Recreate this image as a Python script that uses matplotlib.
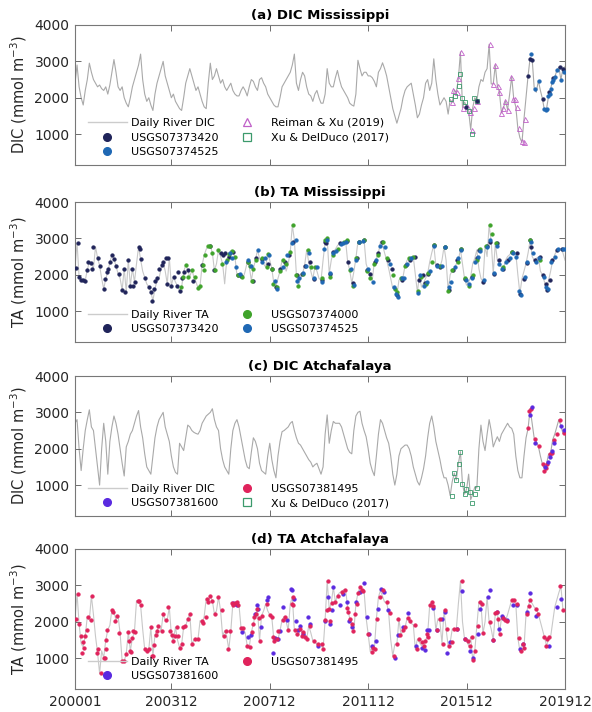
import numpy as np
import matplotlib
matplotlib.use("Agg")
import matplotlib.pyplot as plt
from matplotlib.lines import Line2D

# months since Jan 2000 (0 .. 239)
tickMonths = [0, 47, 95, 143, 191, 239]
tickLabels = ["200001", "200312", "200712", "201112", "201512", "201912"]

# (a) DIC Mississippi, daily river line sampled monthly
dicMissLine = [
    2400, 2900, 2300, 2000, 1800, 2200, 2500, 2950, 2700, 2500, 2400, 2300,
    2350, 2250, 2200, 2300, 2100, 2350, 2700, 3050, 2700, 2300, 2200, 2300,
    2000, 1850, 1750, 2000, 2300, 2500, 2700, 2900, 3200, 2500, 2100, 1900,
    2000, 1800, 1650, 2100, 2400, 2600, 2800, 3000, 2600, 2400, 2200, 2000,
    2100, 1900, 1800, 1700, 1650, 2000, 2400, 2600, 2800, 2600, 2400, 2200,
    2300, 2100, 1900, 1750, 1700, 2400, 2950, 2500, 2600, 2800, 2600, 2400,
    2500, 2300, 2200, 2300, 2400, 2200, 2100, 2050, 2050, 2200, 2300, 2200,
    2050, 2300, 2500, 2450, 2300, 2200, 2500, 2550, 2400, 2300, 2100, 2000,
    1900, 1800, 1750, 1750, 2000, 2300, 2400, 2500, 2600, 2700, 2900, 3200,
    2400, 2200, 2500, 2700, 2600, 2300, 2100, 2050, 1900, 2100, 2200, 2000,
    1850, 1850, 2100, 2800, 2400, 2300, 2300, 2550, 2750, 2500, 2300, 2200,
    2100, 2000, 1850, 1800, 1770, 2100, 3030, 2800, 2600, 2700, 2700, 2600,
    2600, 2550, 2450, 2300, 2700, 2800, 2960, 2800, 2600, 2300, 2000, 1700,
    1500, 1300, 1500, 1700, 2000, 2200, 2300, 2350, 2400, 2100, 1800, 1450,
    1550, 1800, 2000, 2400, 2500, 2200, 2400, 3070, 2500, 2100, 1800, 1900,
    2000, 1900, 1550, 1950, 1870, 2210, 2150, 2530, 3260, 1730, 1880, 1770,
    1630, 1120, 1730, 2000, 1910, 2300, 2500, 2450, 2700, 2800, 3470, 2380,
    2380, 2900, 2330, 2160, 1580, 1730, 1910, 1670, 2100, 2580, 1970, 1750,
    1160, 900, 770, 1420, 2000, 2610, 3100, 3050, 2250, 2150, 2470, 2200,
    1970, 1650, 1700, 2050, 2240, 2500, 2560, 2750, 2840, 2500, 2800, 2850,
]
dicMissReimanM = [183.7, 184.5, 186.1, 186.9, 188.1, 189.4, 191.0, 192.6, 193.4, 194.7, 196.3,
                  202.4, 203.7, 204.8, 206.1, 206.8, 207.7, 208.9, 209.7, 211.0, 212.6, 213.7,
                  214.6, 215.4, 216.5, 217.8, 218.8, 219.4]
dicMissReimanV = [1870, 2210, 2145, 2530, 3260, 1730, 1770, 1600, 1120, 1730, 1910,
                  3470, 2380, 2900, 2330, 2160, 1580, 1730, 1910, 1670, 2580, 1970,
                  1970, 1750, 1160, 800, 770, 1420]
dicMissXuM = [183.3, 185.3, 187.2, 187.7, 189.0, 190.2, 192.3, 193.4, 194.7, 195.9]
dicMissXuV = [1970, 2050, 2330, 2660, 2000, 1880, 1630, 1010, 2000, 1910]
dicMiss420M = [190.5, 195.9, 221.0, 221.9, 222.7, 228.5, 231.3, 233.3, 236.8, 238.1]
dicMiss420V = [1750, 1910, 2610, 3070, 3050, 1970, 2150, 2550, 2840, 2800]
dicMiss525M = [222.4, 224.3, 226.3, 228.9, 229.5, 230.0, 230.8, 231.6, 232.4, 232.8, 233.3,
               234.1, 234.9, 237.0, 238.5]
dicMiss525V = [3210, 2250, 2470, 1700, 1650, 1700, 2050, 2100, 2240, 2440, 2500,
               2560, 2750, 2500, 2700]

# (b) TA Mississippi
taMissLine = [
    2200, 2880, 1935, 1860, 1850, 1840, 2140, 2350, 2320, 2170, 2770, 2470,
    2250, 1900, 1610, 1890, 2070, 2350, 2540, 2440, 2230, 2030, 1900, 1580,
    2170, 1520, 2400, 1700, 2170, 1800, 2300, 2770, 2420, 2100, 1920, 1750,
    1660, 1520, 1290, 1610, 1840, 1900, 2170, 2350, 2100, 1750, 2470, 1700,
    1935, 1800, 1680, 1560, 1660, 2070, 2280, 2120, 1935, 2140, 1935, 1800,
    1640, 1700, 2260, 2540, 2700, 2790, 2800, 2600, 2120, 2300, 2680, 2500,
    2300, 1750, 2400, 2580, 2660, 2600, 2490, 1980, 1950, 1960, 1900, 2100,
    2350, 2230, 1840, 2170, 2400, 2680, 2450, 2350, 2300, 2210, 2580, 2400,
    2170, 1750, 1660, 1900, 2100, 2400, 2300, 2100, 2300, 2630, 3370, 2950,
    1990, 1700, 1900, 2030, 2260, 2680, 2350, 2100, 1880, 2220, 2100, 1900,
    1850, 2400, 2900, 3000, 2030, 2400, 2630, 2700, 2800, 2860, 2880, 2900,
    2930, 2350, 2120, 1760, 2080, 2450, 2910, 2930, 2900, 2950, 2300, 2120,
    1940, 1850, 2350, 2450, 2600, 2910, 2820, 2600, 2400, 2170, 1900, 1620,
    1620, 1430, 1850, 1900, 1940, 2260, 2400, 2450, 2480, 2490, 2000, 1520,
    1990, 1660, 1760, 1900, 2030, 2350, 2600, 2820, 2260, 2220, 2200, 2400,
    2770, 2400, 1570, 2000, 2120, 2170, 2300, 2400, 2700, 2300, 1890, 1710,
    1800, 1940, 2310, 2450, 2680, 2170, 1900, 1800, 2790, 2500, 3370, 2910,
    2030, 2860, 2400, 2300, 2200, 2170, 2400, 2500, 2550, 2630, 2600, 2590,
    2000, 1480, 1890, 2100, 2310, 2600, 2950, 2500, 2400, 2450, 2490, 2100,
    1990, 1800, 1570, 1850, 2100, 2400, 2550, 2680, 2700, 2720, 2600, 2400,
]
taMiss420M = [0.5, 1.3, 2, 3, 4, 5, 6, 6.5, 8, 8.5, 8.6, 11, 12, 14, 14.6, 15.5, 16.3, 17, 18, 19,
              20, 21.6, 23, 24, 24.5, 26, 26.8, 27.6, 28.5, 29.3, 31, 31.6, 32, 34, 36.2, 37.3,
              37.8, 38.5, 39, 40, 41.2, 42.3, 43.1, 44.5, 45, 45.6, 46.7, 48.3, 49.6, 50, 51.2,
              52, 53, 55, 57.4, 61.9, 66, 68, 71, 72.3, 73.4, 75.3, 77, 79.7, 81, 84.5, 86.8,
              88.5, 91, 94, 96, 98, 100, 102.5, 104.3, 106.5, 108.4, 110.6, 112, 114.5, 116.6,
              120.3, 122, 122.6, 124.4, 126, 129.3, 132.5, 133.3, 135.8, 137.4, 138.5, 141,
              142.6, 143.7, 146.3, 148, 149.6, 152.9, 154.5, 156.9, 159.5, 161.6, 163.5, 165.9,
              168, 169.5, 170.8, 172.4, 175, 176.5, 178, 180.5, 182.2, 184.5, 186.5, 188.5,
              190.3, 193.5, 196, 197.1, 199.2, 200.8, 202.5, 204.3, 205.7, 207, 209, 211, 213,
              215.5, 217, 219, 220.3, 222, 222.5, 224.5, 226.8, 228.5, 229.5, 230.1, 231.5,
              232.5, 235, 237.4]
taMiss420V = [2190, 2880, 1935, 1860, 1850, 1840, 2140, 2350, 2320, 2170, 2770, 2470, 2250, 1610,
              1890, 2070, 2170, 2350, 2540, 2440, 2230, 2030, 1580, 2170, 1520, 2400, 1700, 2170,
              1680, 1800, 2770, 2700, 2420, 1920, 1660, 1520, 1290, 1610, 1840, 1900, 2170, 2260,
              2350, 2450, 1750, 2470, 1700, 1935, 1680, 2070, 1560, 1900, 2070, 2120, 1840, 2260,
              2800, 2140, 2600, 2550, 2600, 2500, 2620, 1980, 1960, 2350, 1840, 2470, 2420, 2300,
              2170, 1660, 2150, 2350, 2530, 2900, 1990, 2030, 2250, 2350, 1880, 1850, 2900, 2870,
              2030, 2630, 2860, 2930, 2350, 1760, 2450, 2910, 2950, 2120, 2030, 2350, 2600, 2910,
              2400, 2170, 1430, 1850, 2260, 2400, 2490, 1850, 1990, 1760, 2030, 2820, 2260, 2200,
              2770, 1570, 2120, 2400, 2700, 1890, 1940, 2450, 2680, 1800, 2790, 2910, 2030, 2860,
              2400, 2170, 2400, 2630, 2590, 1480, 1890, 2310, 2950, 2750, 2400, 2490, 1990, 1750,
              1570, 1850, 2400, 2680, 2720]
taMiss000M = [51.8, 52.6, 54, 55.3, 57, 58.5, 60, 61, 62.3, 62.9, 63.4, 65, 65.8, 66.6, 68.2, 69.8,
              71.5, 74, 75.3, 76.5, 78, 79.7, 81.3, 84.5, 85.3, 86.1, 87, 88.5, 91, 93.5, 94.3, 96,
              96.8, 98.3, 100, 101.6, 103, 105, 106.5, 107.6, 109, 111, 113.8, 115, 117, 120.5,
              121.8, 122.8, 124.5, 125.8, 128.5, 131, 132.5, 134, 135.8, 137, 138.5, 141, 142.5,
              144, 146, 148, 150, 152, 155, 156.3, 157.3, 159, 161, 163, 165, 167.5, 169, 171,
              172.3, 174, 175.2, 178, 180.5, 182, 184, 186.6, 188.3, 190, 192, 194, 196.3, 197.5,
              200.5, 202.5, 203.5, 205.5, 209, 213, 222, 227]
taMiss000V = [1660, 1935, 2280, 1935, 2140, 1935, 1640, 1700, 2260, 2120, 2540, 2790, 2800, 2600,
              2120, 2680, 2300, 2400, 2580, 2660, 2490, 1980, 1940, 2350, 2230, 1840, 2170, 2400,
              2450, 2210, 2580, 2170, 1750, 1660, 2100, 2400, 2300, 2630, 3370, 2000, 1700, 2030,
              2680, 2200, 2220, 1900, 2950, 3000, 1950, 2550, 2700, 2900, 2950, 2120, 1700, 2450,
              2900, 2950, 2100, 1900, 2300, 2550, 2900, 2450, 2000, 1600, 1530, 1900, 2250, 2450,
              2500, 1550, 1950, 1750, 2050, 2350, 2830, 2250, 2770, 1550, 2120, 2350, 2720, 1900,
              1700, 2000, 2400, 2700, 2780, 3370, 3120, 2880, 2200, 2620, 2950, 2400]
taMiss525M = [73.7, 75.5, 76.8, 78.5, 80.3, 84.5, 86, 89.4, 91.4, 92.5, 94.5, 97.5, 98.3, 101.6,
              103.5, 105.6, 107.8, 108.3, 109.5, 111, 112.5, 114, 116.5, 118, 120.5, 121.5, 123,
              124.2, 126, 127.5, 129.5, 130.5, 132, 134.5, 136, 137.2, 138.5, 140.5, 142.8, 145.5,
              147, 149, 151, 153.5, 155.8, 156.5, 157.5, 159.5, 160.5, 162, 164, 167.5, 168.5,
              170, 171.5, 173, 175, 176.5, 179, 180.7, 182.5, 183.5, 185.5, 187, 188.5, 190.5,
              192, 193.5, 195, 196.5, 197.5, 199.3, 200.8, 202.5, 204.2, 206, 207, 208.5, 210,
              212, 213.5, 215, 216.8, 217.5, 219.5, 220.5, 222.2, 223.5, 225, 226.5, 228.8,
              229.8, 230.5, 232.3, 234, 235.5, 237.8, 239]
taMiss525V = [2350, 2600, 2450, 2200, 2030, 2400, 2230, 2680, 2350, 2450, 2530, 1840, 1610, 2210,
              2530, 2860, 2950, 1840, 1900, 2050, 2250, 2600, 1900, 2200, 1800, 2700, 2950, 2050,
              2600, 2650, 2850, 2880, 2900, 2150, 1720, 2400, 2900, 2930, 2150, 1800, 2400, 2800,
              2750, 2300, 1650, 1480, 1400, 1900, 1900, 2300, 2450, 1500, 2000, 1700, 1800, 2100,
              2800, 2250, 2250, 2750, 1650, 1800, 2200, 2450, 2680, 1850, 1750, 1900, 2350, 2500,
              2650, 1850, 2760, 2950, 2050, 2800, 2300, 2150, 2350, 2450, 2600, 2500, 1550, 1450,
              1950, 2350, 2900, 2600, 2350, 2450, 1950, 1650, 1600, 2350, 2500, 2700, 2720, 2700]

# (c) DIC Atchafalaya
dicAtchLine = [
    2700, 2800, 2000, 1400, 2000, 2500, 2800, 3070, 2600, 2500, 2000, 1500,
    1000, 2000, 2700, 2200, 1300, 2200, 2600, 2900, 2700, 2400, 2000, 1600,
    1250, 2050, 2200, 2400, 2500, 2700, 2900, 3050, 2600, 2300, 1860, 1500,
    1400, 1300, 1800, 2300, 2600, 2800, 2900, 3000, 2600, 2400, 2200, 1800,
    1500, 1350, 1300, 2150, 2050, 1950, 2300, 2650, 2600, 2500, 2450, 2420,
    2400, 2500, 2700, 2800, 2900, 2950, 3000, 3100, 2800, 2600, 2500, 2000,
    1700, 1500, 1400, 1300, 2000, 2500, 2700, 2800, 2600, 2300, 2000, 1700,
    1500, 1450, 1900, 2300, 2200, 2000, 1600, 1400, 1350, 1300, 1800, 2150,
    1700, 1400, 1200, 1800, 2200, 2470, 2500, 2550, 2600, 2700, 2750, 2500,
    2300, 2150, 2100, 2000, 1900, 1800, 1700, 1630, 1500, 1560, 1600, 1450,
    1300, 1500, 2400, 2930, 2150, 2500, 2750, 2700, 2700, 2700, 2600, 2400,
    2200, 2000, 1900, 1860, 2500, 2900, 3000, 3030, 2700, 2500, 2330, 2000,
    1600, 1400, 1260, 1800, 2400, 2800, 2700, 2500, 2300, 2150, 1800, 1300,
    1000, 1300, 1800, 2000, 2050, 2100, 2100, 2000, 1800, 1500, 1300, 1100,
    1000, 1200, 1450, 1800, 2300, 2700, 2900, 2600, 2200, 1950, 1700, 1400,
    1200, 1200, 1000, 710, 1100, 1330, 1140, 1590, 1920, 1030, 750, 890,
    1300, 600, 750, 950, 920, 2000, 2650, 2200, 1950, 2400, 2800, 2500,
    2050, 2200, 2330, 2200, 2400, 2500, 2600, 2700, 2600, 2560, 2400, 1800,
    1400, 1200, 1200, 1800, 2300, 2560, 3100, 2700, 2280, 2200, 2070, 1800,
    1570, 1450, 1590, 1850, 1890, 2250, 2400, 2600, 2800, 2630, 2420, 2470,
]
dicAtchXuM = [183.7, 185.0, 186.0, 187.2, 187.9, 189.0, 190.2, 190.7, 192.8, 193.6, 194.9, 196.0]
dicAtchXuV = [710, 1330, 1140, 1590, 1920, 1030, 750, 890, 800, 500, 750, 920]
dicAtch495M = [221.0, 221.5, 222.4, 224.6, 226.3, 228.4, 228.9, 229.5, 230.3, 231.6, 232.8,
               233.7, 234.9, 236.7, 238.6]
dicAtch495V = [2560, 3030, 3090, 2280, 2070, 1570, 1400, 1480, 1590, 1850, 1890,
               2250, 2400, 2800, 2420]
dicAtch600M = [221.9, 222.7, 224.6, 229.2, 230.8, 231.6, 232.8, 233.4, 237.0, 238.3]
dicAtch600V = [2930, 3140, 2170, 1510, 1630, 1770, 1940, 2160, 2630, 2520]

# (d) TA Atchafalaya
taAtchLine = [
    2080, 2770, 1940, 1400, 1300, 1610, 2140, 2050, 2710, 2200, 1600, 1150,
    580, 1200, 1010, 1490, 1780, 1900, 2330, 2280, 2030, 2170, 1680, 920,
    920, 1120, 1710, 1200, 1550, 1730, 2580, 2560, 2450, 1800, 1240, 1200,
    1240, 1850, 1050, 1640, 1750, 1890, 1750, 2210, 2050, 2050, 2400, 1640,
    1480, 1850, 1500, 1290, 1380, 1850, 1890, 2080, 2210, 1380, 1500, 1520,
    1520, 2030, 1960, 2140, 2630, 2540, 2700, 2580, 2210, 2300, 2680, 2310,
    1610, 1750, 1600, 1240, 1750, 2510, 2450, 2540, 2450, 1820, 1800, 1700,
    1340, 1310, 1710, 1940, 2210, 2350, 1480, 2170, 2300, 2490, 2300, 2190,
    2120, 1500, 1480, 1520, 1750, 2050, 2140, 2000, 1770, 2490, 2680, 1760,
    1750, 1660, 1800, 1610, 1710, 1520, 1890, 1700, 1480, 1450, 1380, 1380,
    1380, 1240, 2050, 3120, 2350, 2510, 2950, 2540, 2720, 2800, 2820, 2880,
    2880, 2380, 2080, 1940, 1740, 2490, 2790, 2950, 2880, 2840, 2100, 1660,
    1180, 1290, 1240, 2080, 2680, 2860, 2700, 2540, 2540, 2230, 1500, 1060,
    1380, 1380, 2080, 1640, 1760, 1850, 2100, 2030, 1950, 1920, 1240, 1520,
    1430, 1340, 1340, 1480, 1660, 2450, 2540, 2420, 1770, 2080, 2000, 1400,
    2310, 1800, 1340, 1430, 1800, 1800, 1800, 2500, 3120, 2000, 1520, 1480,
    1340, 1570, 940, 1200, 1890, 2540, 2490, 1680, 2000, 2680, 1990, 1800,
    1500, 2230, 2280, 1660, 2100, 2100, 2030, 2200, 2400, 2600, 2600, 2490,
    1550, 1200, 1380, 1290, 2210, 2420, 2590, 2500, 2400, 2350, 2210, 2000,
    1800, 1570, 1340, 1520, 1590, 2000, 2400, 2600, 2800, 2970, 2330, 2300,
]
taAtch495M = [0.5, 1.3, 2, 2.8, 3.3, 4, 4.4, 5, 5.7, 6.5, 7.6, 8.5, 10.6, 11.1, 12.5, 14, 14.6, 15,
              15.3, 15.8, 17.9, 18.4, 19.5, 20.3, 21.6, 23, 23.7, 24.9, 26, 26.5, 26.8, 27.3, 28,
              28.5, 29.3, 30.6, 31.4, 32, 34.1, 34.9, 36.3, 36.9, 37.4, 37.9, 38.5, 39.5, 39.8,
              40.7, 42.3, 43.1, 44.4, 45.5, 46.3, 47.2, 48, 48.8, 49.6, 50.1, 51.2, 52, 52.5,
              53.7, 55.3, 56.1, 56.9, 58.5, 60.2, 61.8, 62.6, 63.9, 64.2, 65, 65.9, 66.7, 68.3,
              69.9, 71.5, 72.7, 73.7, 74.8, 75.6, 76.4, 77.2, 78, 78.9, 79.7, 80.8, 81.8, 83.7,
              85.4, 86.2, 86.7, 87.3, 88.3, 88.9, 89.6, 90.2, 91.1, 93.5, 95, 95.9, 96.7, 97.2,
              98.4, 99.2, 101.3, 102.4, 104, 105.7, 106.5, 106.5, 107.3, 108.5, 109.8, 110.6,
              111.4, 112.2, 113, 114.7, 116.6, 118.7, 120.3, 121.2, 122, 122.8, 123.6, 124.1,
              124.4, 125.2, 126.9, 128.5, 130.1, 131.7, 132.5, 133.4, 134.2, 135, 135.8, 136.6,
              137.4, 138.2, 139, 139.9, 140.7, 143.1, 144.7, 145.5, 146.4, 147.5, 148.8, 150.1,
              152, 153.7, 155.6, 157, 157.7, 158.6, 160.2, 161, 162.6, 163.4, 165.9, 166.7, 168,
              169.1, 170, 170.8, 171.6, 172.4, 173.2, 174, 174.8, 176.4, 178.1, 179.7, 180.5,
              181.3, 182.6, 183.8, 184.9, 186.2, 188.6, 190.3, 191.9, 192.7, 193.5, 194, 195.1,
              196.8, 197.6, 198.4, 199.2, 202.5, 204.1, 204.9, 205.7, 206.5, 207.3, 208.9, 209.8,
              210.6, 213, 214.2, 215.5, 216.8, 217.6, 218.4, 219.2, 220.3, 221.2, 222, 224.9,
              226, 228.8, 229.8, 230.4, 231.4, 236.6, 238.2]
taAtch495V = [2080, 2770, 1940, 1610, 1150, 1430, 1290, 1610, 1770, 2140, 2050, 2710, 1150, 1240,
              580, 1010, 990, 1240, 1490, 1780, 2330, 2280, 2030, 2170, 1680, 920, 920, 1120, 1710,
              1480, 1200, 1180, 1550, 1750, 1730, 2580, 2560, 2450, 1240, 1200, 1240, 1850, 1050,
              1050, 1360, 1640, 1750, 1890, 1750, 2210, 2050, 2400, 1750, 1640, 1480, 1620, 1850,
              1600, 1290, 1380, 1850, 1890, 2080, 2210, 1380, 1520, 1520, 2030, 1960, 2140, 2630,
              2540, 2700, 2580, 2210, 2680, 2310, 1610, 1750, 1240, 1750, 2510, 2450, 2510, 2540,
              2450, 1820, 1820, 1340, 1310, 1710, 1940, 2120, 2210, 2350, 2100, 1480, 2170, 2490,
              2190, 2120, 1570, 1480, 1520, 1750, 2050, 2140, 1770, 2490, 2680, 2450, 1760, 1660,
              1800, 1610, 1710, 1570, 1520, 1890, 1480, 1380, 1380, 1240, 2050, 2310, 3120, 2350,
              2030, 2510, 2540, 2720, 2820, 2880, 2380, 2260, 2080, 1940, 1740, 2210, 2490, 2790,
              2950, 2880, 2840, 1660, 1180, 1290, 1240, 2080, 2680, 2860, 2540, 2230, 1060, 1380,
              2080, 1640, 1760, 1850, 2100, 2030, 1920, 1240, 1520, 1430, 1340, 1480, 1660, 1570,
              2450, 2540, 2420, 1770, 2080, 1400, 2310, 1800, 1340, 1430, 1800, 1800, 3120, 1520,
              1480, 1340, 1570, 940, 1200, 1890, 2540, 2490, 1680, 1990, 1500, 2230, 2280, 2080,
              1660, 2100, 2050, 2030, 2600, 2600, 2490, 1550, 1200, 1380, 1290, 2210, 2420, 2590,
              2350, 2210, 1570, 1340, 1520, 1590, 2970, 2330]
taAtch600M = [77.2, 78, 78.9, 81.3, 84.6, 85.7, 87.8, 88.6, 89.4, 90.7, 93.5, 94.3, 96.7, 97.6,
              99.2, 100, 101.6, 103.3, 105.4, 105.7, 106.8, 107.8, 109, 109.8, 111.4, 113.8,
              114.7, 118.7, 122, 123.6, 124.4, 125.2, 126, 129.3, 130.6, 132.9, 133.8, 135,
              137.1, 139, 141, 142.6, 143.6, 144.7, 146.9, 148, 149.1, 150.8, 152.9, 156.1,
              157.7, 160.2, 162.6, 166.4, 169.1, 170.8, 171.6, 172.9, 174.5, 176.4, 178.9, 180.5,
              181.3, 183, 186.2, 188.6, 190.3, 192.7, 194, 196.8, 197.6, 201.2, 202.5, 203.8,
              205.7, 206.9, 208.2, 209, 210.6, 213.5, 215.5, 217.1, 218.7, 220.7, 222, 224.9,
              231, 235, 237]
taAtch600V = [2510, 2480, 2450, 1710, 1590, 1640, 2210, 2450, 2350, 1850, 2600, 2680, 1150, 1550,
              1520, 1750, 2400, 2050, 2900, 2880, 2630, 2030, 1760, 1870, 1660, 2120, 1950, 1340,
              2030, 2680, 1940, 2330, 2950, 2470, 2770, 2540, 2030, 1850, 2540, 2820, 3060, 2140,
              1660, 1340, 1480, 2340, 2900, 2820, 2310, 1000, 1640, 1850, 2230, 1340, 1290, 1220,
              1760, 1770, 2380, 1770, 2080, 2260, 1150, 1430, 1800, 2840, 1520, 1200, 1010, 1660,
              2350, 2680, 2880, 1500, 2280, 1800, 2170, 2100, 2050, 2470, 2450, 1240, 1380, 2260,
              2790, 2170, 1340, 2400, 2630]

NAVY = "#20245a"
BLUE = "#1f68b4"
GREEN = "#3fa32b"
PURPLE = "#c060c8"
TEAL = "#3c9a6c"
RED = "#e0235c"
VIOLET = "#5a2ae0"
GRID_TEXT = "#262626"


def styleAxes(ax, showXLabels):
    ax.set_xlim(0, 239)
    ax.set_ylim(150, 4000)
    ax.set_yticks([1000, 2000, 3000, 4000])
    ax.set_xticks(tickMonths)
    if showXLabels:
        ax.set_xticklabels(tickLabels)
    else:
        ax.set_xticklabels([])
    ax.tick_params(direction="in", top=True, right=True, length=4, width=0.6,
                   labelsize=10, color="#555555", labelcolor=GRID_TEXT, pad=4)
    for s in ax.spines.values():
        s.set_color("#777777")
        s.set_linewidth(0.8)


def dot(color):
    return dict(linestyle="none", marker="o", markersize=2.7, markerfacecolor=color,
                markeredgecolor=color, markeredgewidth=0.3)


def addLegend(ax, handles, labels):
    ax.legend(handles, labels, ncol=2, loc="lower left", bbox_to_anchor=(0.026, 0.055),
              frameon=False, fontsize=8, borderpad=0, borderaxespad=0,
              handlelength=3.5, handletextpad=0.4, columnspacing=0.85, labelspacing=0.42)


def lineHandle(color):
    return Line2D([], [], color=color, linewidth=1.0)


def dotHandle(color):
    return Line2D([], [], linestyle="none", marker="o", markersize=5.5,
                  markerfacecolor=color, markeredgecolor=color)


def openHandle(marker, color):
    return Line2D([], [], linestyle="none", marker=marker, markersize=6,
                  markerfacecolor="none", markeredgecolor=color, markeredgewidth=0.9)


def main():
    months = np.arange(240)
    fig = plt.figure(figsize=(5.92, 7.12), dpi=100)
    left, width = 75 / 592, 490 / 592
    tops = [25, 202, 376, 549]
    axs = [fig.add_axes([left, 1 - (t + 140) / 712, width, 140 / 712]) for t in tops]

    # (a)
    ax = axs[0]
    ax.plot(months, dicMissLine, color="#a9a9a9", linewidth=0.8, zorder=1)
    ax.plot(dicMissReimanM, dicMissReimanV, linestyle="none", marker="^", markersize=3.6,
            markerfacecolor="none", markeredgecolor=PURPLE, markeredgewidth=0.6, zorder=3)
    ax.plot(dicMissXuM, dicMissXuV, linestyle="none", marker="s", markersize=3.0,
            markerfacecolor="none", markeredgecolor=TEAL, markeredgewidth=0.6, zorder=3)
    ax.plot(dicMiss420M, dicMiss420V, zorder=4, **dot(NAVY))
    ax.plot(dicMiss525M, dicMiss525V, zorder=4, **dot(BLUE))
    styleAxes(ax, False)
    ax.set_ylabel("DIC (mmol m$^{-3}$)", fontsize=10.5, color=GRID_TEXT)
    ax.set_title("(a) DIC Mississippi", fontsize=9.5, fontweight="bold", pad=4)
    addLegend(ax, [lineHandle("#cccccc"), dotHandle(NAVY), dotHandle(BLUE),
                   openHandle("^", PURPLE), openHandle("s", TEAL)],
              ["Daily River DIC", "USGS07373420", "USGS07374525",
               "Reiman & Xu (2019)", "Xu & DelDuco (2017)"])

    # (b)
    ax = axs[1]
    ax.plot(months, taMissLine, color="#c8c8c8", linewidth=0.8, zorder=1)
    ax.plot(taMiss420M, taMiss420V, zorder=3, **dot(NAVY))
    ax.plot(taMiss000M, taMiss000V, zorder=3, **dot(GREEN))
    ax.plot(taMiss525M, taMiss525V, zorder=4, **dot(BLUE))
    styleAxes(ax, False)
    ax.set_ylabel("TA (mmol m$^{-3}$)", fontsize=10.5, color=GRID_TEXT)
    ax.set_title("(b) TA Mississippi", fontsize=9.5, fontweight="bold", pad=4)
    addLegend(ax, [lineHandle("#cccccc"), dotHandle(NAVY), dotHandle(GREEN), dotHandle(BLUE)],
              ["Daily River TA", "USGS07373420", "USGS07374000", "USGS07374525"])

    # (c)
    ax = axs[2]
    ax.plot(months, dicAtchLine, color="#a9a9a9", linewidth=0.8, zorder=1)
    ax.plot(dicAtchXuM, dicAtchXuV, linestyle="none", marker="s", markersize=3.0,
            markerfacecolor="none", markeredgecolor=TEAL, markeredgewidth=0.6, zorder=3)
    ax.plot(dicAtch495M, dicAtch495V, zorder=3, **dot(RED))
    ax.plot(dicAtch600M, dicAtch600V, zorder=4, **dot(VIOLET))
    styleAxes(ax, False)
    ax.set_ylabel("DIC (mmol m$^{-3}$)", fontsize=10.5, color=GRID_TEXT)
    ax.set_title("(c) DIC Atchafalaya", fontsize=9.5, fontweight="bold", pad=4)
    addLegend(ax, [lineHandle("#cccccc"), dotHandle(VIOLET), dotHandle(RED),
                   openHandle("s", TEAL)],
              ["Daily River DIC", "USGS07381600", "USGS07381495", "Xu & DelDuco (2017)"])

    # (d)
    ax = axs[3]
    ax.plot(months, taAtchLine, color="#c8c8c8", linewidth=0.8, zorder=1)
    ax.plot(taAtch600M, taAtch600V, zorder=3, **dot(VIOLET))
    ax.plot(taAtch495M, taAtch495V, zorder=4, **dot(RED))
    styleAxes(ax, True)
    ax.set_ylabel("TA (mmol m$^{-3}$)", fontsize=10.5, color=GRID_TEXT)
    ax.set_title("(d) TA Atchafalaya", fontsize=9.5, fontweight="bold", pad=4)
    addLegend(ax, [lineHandle("#cccccc"), dotHandle(VIOLET), dotHandle(RED)],
              ["Daily River TA", "USGS07381600", "USGS07381495"])

    fig.savefig("out.png", dpi=100)
    plt.close(fig)


if __name__ == "__main__":
    main()
